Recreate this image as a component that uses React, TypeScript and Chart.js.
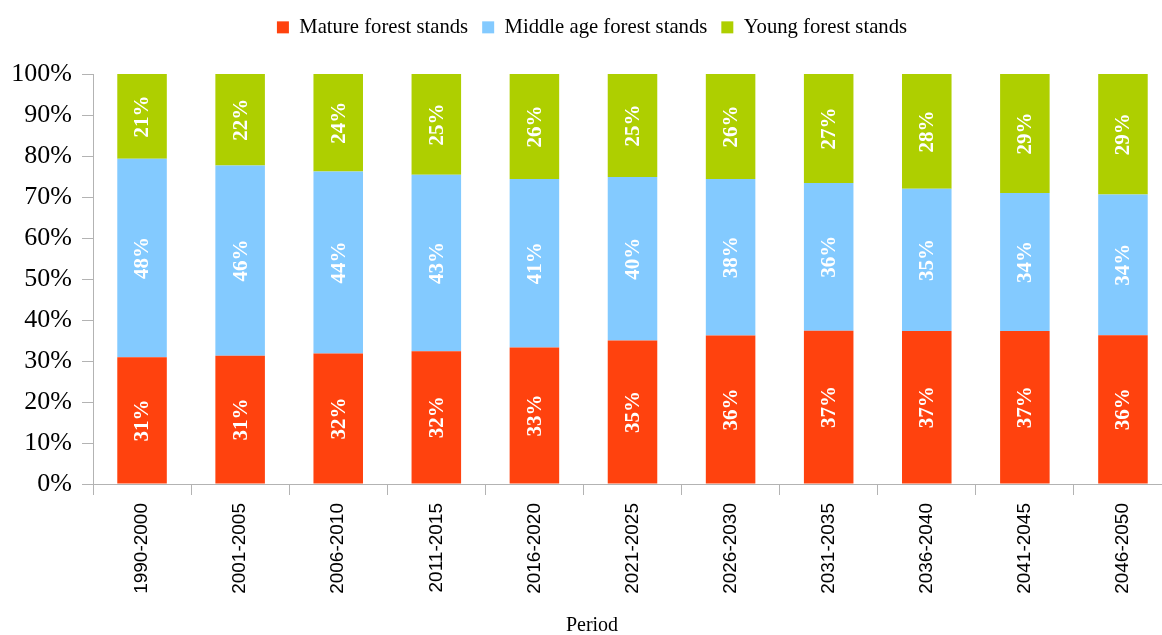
import React, { useEffect, useRef } from "react";
import { Chart, registerables } from "chart.js";

Chart.register(...registerables);

const categories = [
  "1990-2000", "2001-2005", "2006-2010", "2011-2015", "2016-2020", "2021-2025",
  "2026-2030", "2031-2035", "2036-2040", "2041-2045", "2046-2050",
];
const matureValues = [30.9, 31.3, 31.8, 32.4, 33.3, 35.0, 36.2, 37.4, 37.3, 37.3, 36.3];
const middleValues = [48.4, 46.4, 44.4, 43.0, 41.1, 39.9, 38.2, 36.0, 34.7, 33.7, 34.3];
const youngValues = [20.7, 22.3, 23.8, 24.6, 25.6, 25.1, 25.6, 26.6, 28.0, 29.0, 29.4];
const seriesNames = ["Mature forest stands", "Middle age forest stands", "Young forest stands"];
const seriesColors = ["#ff420e", "#83caff", "#aecf00"];
const yTickValues = [0, 10, 20, 30, 40, 50, 60, 70, 80, 90, 100];
const xAxisTitle = "Period";

const SERIF = "'Liberation Serif', 'Times New Roman', serif";
const SANS = "'Liberation Sans', Arial, sans-serif";
const AXIS_GRAY = "#b3b3b3";

const legendHeightPlugin = {
  id: "legendHeight",
  beforeLayout(chart: any) {
    const lg = chart.legend;
    if (lg && !lg._patchedFit) {
      const orig = lg.fit.bind(lg);
      lg.fit = () => {
        orig();
        lg.height = 71;
      };
      lg._patchedFit = true;
    }
  },
};

const valueLabelPlugin = {
  id: "valueLabels",
  afterDatasetsDraw(chart: any) {
    const ctx = chart.ctx;
    ctx.save();
    ctx.fillStyle = "#ffffff";
    ctx.font = `bold 21px ${SERIF}`;
    ctx.textAlign = "center";
    ctx.textBaseline = "middle";
    chart.data.datasets.forEach((ds: any, di: number) => {
      const meta = chart.getDatasetMeta(di);
      meta.data.forEach((el: any, i: number) => {
        const v = ds.data[i];
        const cy = (el.y + el.base) / 2;
        ctx.save();
        ctx.translate(el.x, cy);
        ctx.rotate(-Math.PI / 2);
        ctx.fillText(Math.round(v) + "%", 0, 1);
        ctx.restore();
      });
    });
    ctx.restore();
  },
};

export default function App() {
  const canvasRef = useRef<HTMLCanvasElement | null>(null);

  useEffect(() => {
    document.body.style.margin = "0";
    document.body.style.overflow = "hidden";
    const canvas = canvasRef.current;
    if (!canvas) return;
    const values = [matureValues, middleValues, youngValues];
    const chart = new Chart(canvas, {
      type: "bar",
      data: {
        labels: categories,
        datasets: values.map((d, i) => ({
          label: seriesNames[i],
          data: d,
          backgroundColor: seriesColors[i],
          borderWidth: 0,
          categoryPercentage: 1,
          barPercentage: 0.505,
        })),
      },
      options: {
        responsive: false,
        animation: false,
        events: [],
        layout: { padding: { top: 3, right: 12, bottom: 0, left: 12 } },
        plugins: {
          tooltip: { enabled: false },
          legend: {
            position: "top",
            labels: {
              boxWidth: 12,
              boxHeight: 12,
              padding: 14,
              color: "#000",
              font: { family: SERIF, size: 20.7 },
            },
          },
          title: {
            display: true,
            position: "bottom",
            fullSize: true,
            align: "center",
            text: xAxisTitle,
            color: "#000",
            font: { family: SERIF, size: 20, weight: "normal" },
            padding: { top: 3, bottom: -3 },
          },
        },
        scales: {
          x: {
            stacked: true,
            offset: true,
            grid: {
              display: true,
              offset: true,
              drawOnChartArea: false,
              drawTicks: true,
              tickLength: 11,
              color: AXIS_GRAY,
            },
            border: { display: true, color: AXIS_GRAY },
            ticks: {
              color: "#000",
              font: { family: SANS, size: 19 },
              minRotation: 90,
              maxRotation: 90,
              padding: 8,
              autoSkip: false,
            },
            afterFit(scale: any) {
              scale.height = 127;
            },
          },
          y: {
            stacked: true,
            min: 0,
            max: 100,
            afterBuildTicks(scale: any) {
              scale.ticks = yTickValues.map((v) => ({ value: v }));
            },
            grid: {
              display: true,
              drawOnChartArea: false,
              drawTicks: true,
              tickLength: 11,
              color: AXIS_GRAY,
            },
            border: { display: true, color: AXIS_GRAY },
            ticks: {
              color: "#000",
              font: { family: SERIF, size: 26 },
              padding: 10,
              callback: (v: any) => v + "%",
            },
            afterFit(scale: any) {
              scale.width = 81;
            },
          },
        },
      },
      plugins: [legendHeightPlugin, valueLabelPlugin],
    } as any);
    return () => chart.destroy();
  }, []);

  return (
    <div style={{ position: "fixed", left: 0, top: 0, width: 1162, height: 635, overflow: "hidden", background: "#fff" }}>
      <canvas ref={canvasRef} width={1184} height={635} style={{ display: "block", width: 1184, height: 635 }} />
    </div>
  );
}
